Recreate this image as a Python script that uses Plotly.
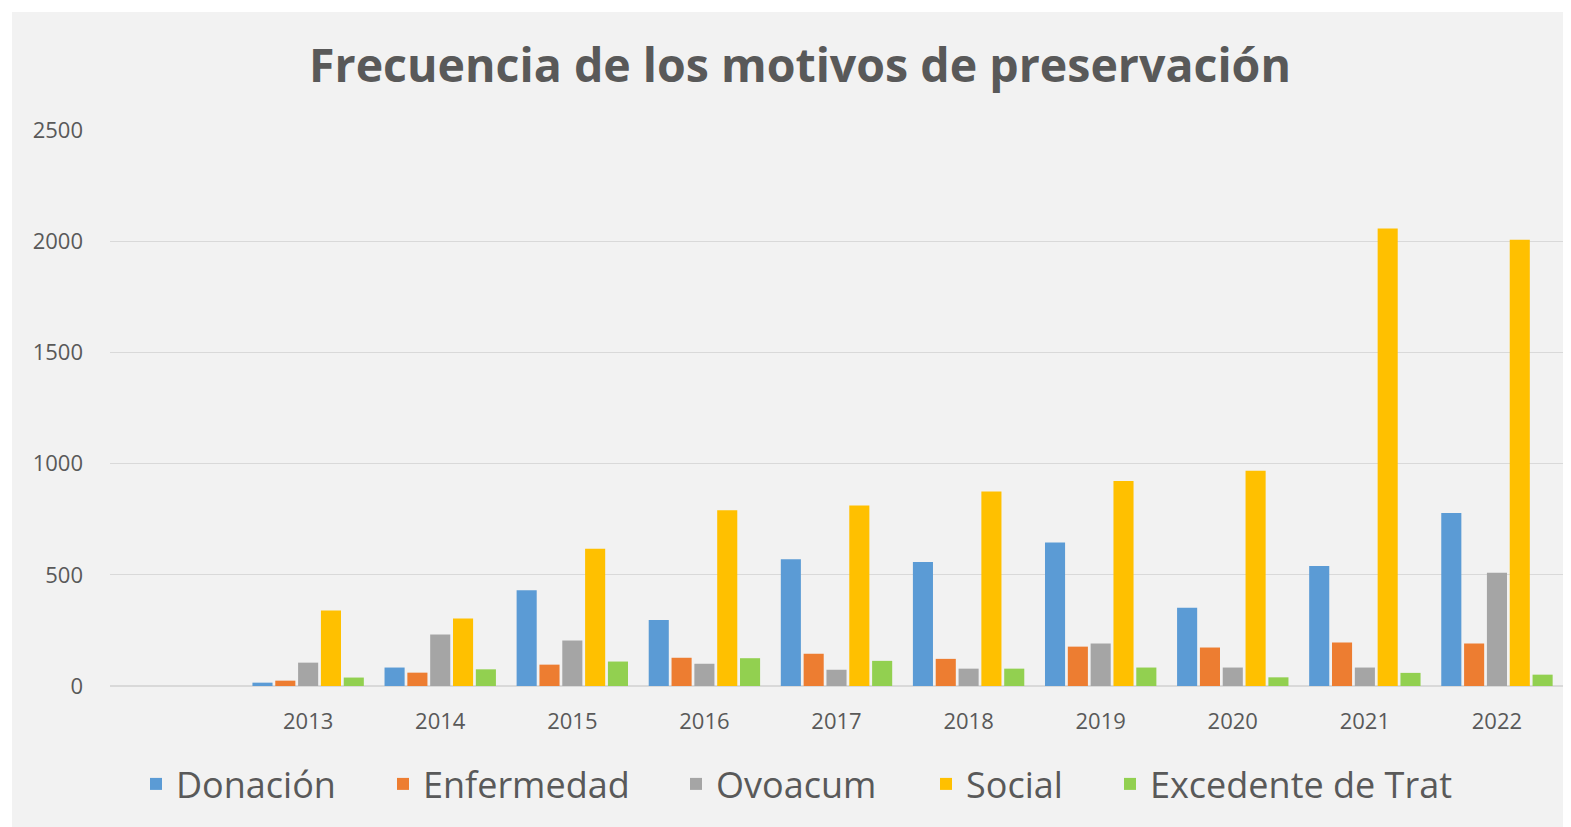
import plotly.graph_objects as go

categories = [" ", "2013", "2014", "2015", "2016", "2017", "2018", "2019", "2020", "2021", "2022"]
donacion = [None, 15, 83, 431, 297, 570, 557, 645, 352, 540, 778]
enfermedad = [None, 24, 60, 96, 127, 145, 122, 177, 173, 196, 191]
ovoacum = [None, 105, 232, 205, 100, 73, 78, 191, 83, 83, 509]
social = [None, 340, 304, 617, 790, 812, 875, 922, 968, 2057, 2006]
excedente = [None, 38, 75, 110, 125, 113, 78, 83, 39, 59, 51]

series = [
    ("Donación", donacion, "#5B9BD5"),
    ("Enfermedad", enfermedad, "#ED7D31"),
    ("Ovoacum", ovoacum, "#A5A5A5"),
    ("Social", social, "#FFC000"),
    ("Excedente de Trat", excedente, "#92D050"),
]
legend_px = [150, 397, 690, 940, 1124]  # legend entry left positions (page px)

OFF = 8  # page body margin
W, H = 1571 - OFF, 827 - OFF
L, R, T, B = 110 - OFF, 8, 130 - OFF, 141

fig = go.Figure()
legends = {}
for i, (name, vals, col) in enumerate(series):
    key = "legend" if i == 0 else f"legend{i + 1}"
    fig.add_trace(go.Bar(x=categories, y=vals, name=name, legend=key,
                         marker=dict(color=col, line=dict(width=0))))
    legends[key] = dict(orientation="h", x=(legend_px[i] - OFF - 14) / W, xanchor="left",
                        xref="container", y=1 - (784 - OFF) / H, yref="container",
                        yanchor="middle", font=dict(size=36, color="#595959"),
                        bgcolor="rgba(0,0,0,0)")

pw = W - L - R
ph = H - T - B
x0 = (12 - OFF - L) / pw
y1 = 1 + (T - (12 - OFF)) / ph
fig.add_shape(type="rect", xref="paper", yref="paper", x0=x0, x1=1 + (R + 5) / pw,
              y0=-(B + 5) / ph, y1=y1, fillcolor="#F2F2F2", line=dict(width=0), layer="below")

fig.update_layout(
    width=W, height=H,
    margin=dict(l=L, r=R, t=T, b=B),
    paper_bgcolor="white", plot_bgcolor="#F2F2F2",
    barmode="group", bargap=0.136, bargroupgap=0.12,
    title=dict(text="<b>Frecuencia de los motivos de preservación</b>",
               x=(800 - OFF) / W, xref="container", xanchor="center",
               y=1 - (66 - OFF) / H, yref="container", yanchor="middle",
               font=dict(family="Open Sans", size=46.5, color="#595959")),
    font=dict(family="Open Sans", color="#595959"),
    showlegend=True,
    **legends,
)
fig.update_xaxes(type="category", showgrid=False, showline=False, ticks="",
                 tickfont=dict(size=22, color="#595959"), ticklabelstandoff=20,
                 zeroline=False)
fig.update_yaxes(range=[0, 2500], tickvals=[0, 500, 1000, 1500, 2000, 2500],
                 showgrid=True, gridcolor="#D9D9D9", gridwidth=1,
                 zeroline=True, zerolinecolor="#D9D9D9", zerolinewidth=2,
                 showline=False, ticks="", tickfont=dict(size=22, color="#595959"),
                 ticklabelstandoff=26)

fig.write_html("out.html")
